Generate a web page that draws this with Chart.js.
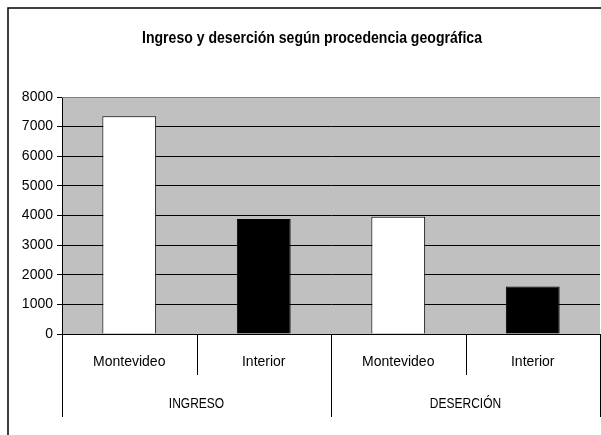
<!DOCTYPE html>
<html>
<head>
<meta charset="utf-8">
<script src="https://cdn.jsdelivr.net/npm/chart.js@4"></script>
<style>
  html, body { margin: 0; padding: 0; background: #fff; }
  #wrap { width: 601px; height: 435px; }
</style>
</head>
<body>
<div id="wrap"><canvas id="chart" width="601" height="435"></canvas></div>
<script>
const title = 'Ingreso y deserción según procedencia geográfica';
const categories = ['Montevideo', 'Interior', 'Montevideo', 'Interior'];
const groups = ['INGRESO', 'DESERCIÓN'];
const values = [7350, 3880, 3960, 1600];
const barColors = ['#ffffff', '#000000', '#ffffff', '#000000'];

const FONT = '"Liberation Sans", Arial, sans-serif';

// narrow-looking text: draw squeezed horizontally
function narrowText(ctx, text, cx, cy, squeeze) {
  ctx.save();
  ctx.translate(cx, cy);
  ctx.scale(squeeze, 1);
  ctx.fillText(text, 0, 0);
  ctx.restore();
}

// gray plot area + outer frame + two-level category axis
const decor = {
  id: 'decor',
  beforeDraw(chart) {
    const { ctx, chartArea: a } = chart;
    ctx.save();
    ctx.fillStyle = '#c0c0c0';
    ctx.fillRect(a.left, a.top, a.right - a.left, a.bottom - a.top);
    ctx.restore();
  },
  afterDraw(chart) {
    const { ctx, chartArea: a } = chart;
    const x = chart.scales.x;
    const half = (x.getPixelForValue(1) - x.getPixelForValue(0)) / 2;
    ctx.save();
    // plot border top
    ctx.strokeStyle = '#808080';
    ctx.lineWidth = 1;
    ctx.beginPath();
    ctx.moveTo(a.left, a.top + 0.5);
    ctx.lineTo(a.right, a.top + 0.5);
    ctx.stroke();
    // category separators
    ctx.strokeStyle = '#000';
    for (let i = 0; i <= categories.length; i++) {
      const px = Math.round(x.getPixelForValue(i) - half) + 0.5;
      ctx.beginPath();
      ctx.moveTo(px, a.bottom);
      ctx.lineTo(px, i % 2 === 0 ? 417 : 375);
      ctx.stroke();
    }
    // group labels
    ctx.fillStyle = '#000';
    ctx.font = '15px ' + FONT;
    ctx.textAlign = 'center';
    ctx.textBaseline = 'middle';
    groups.forEach((g, k) => {
      const cx = (x.getPixelForValue(2 * k) + x.getPixelForValue(2 * k + 1)) / 2;
      narrowText(ctx, g, cx, 404, 0.8);
    });
    // title
    ctx.font = 'bold 16px ' + FONT;
    const w = ctx.measureText(title).width;
    narrowText(ctx, title, 312, 39, 340 / w);
    // outer frame
    ctx.lineWidth = 1.5;
    ctx.beginPath();
    ctx.moveTo(8, 435);
    ctx.lineTo(8, 8);
    ctx.lineTo(601, 8);
    ctx.stroke();
    ctx.restore();
  }
};

new Chart(document.getElementById('chart'), {
  type: 'bar',
  data: {
    labels: categories,
    datasets: [{
      data: values,
      backgroundColor: barColors,
      borderColor: '#000',
      borderWidth: 1,
      barPercentage: 0.4,
      categoryPercentage: 1
    }]
  },
  options: {
    responsive: false,
    animation: false,
    layout: { padding: { top: 97, right: 1, left: 0, bottom: 0 } },
    plugins: {
      legend: { display: false },
      title: { display: false },
      tooltip: { enabled: false }
    },
    scales: {
      x: {
        grid: { display: false },
        border: { display: true, color: '#000', width: 1 },
        ticks: {
          color: '#000',
          font: { family: FONT, size: 14 },
          padding: 12,
          maxRotation: 0
        },
        afterFit(scale) { scale.height = 101; }
      },
      y: {
        min: 0,
        max: 8000,
        ticks: {
          stepSize: 1000,
          color: '#000',
          font: { family: FONT, size: 14 },
          padding: 4,
          callback: v => String(v)
        },
        grid: { color: '#000', lineWidth: 1, tickLength: 5 },
        border: { color: '#000', width: 1 },
        afterFit(scale) { scale.width = 62; }
      }
    }
  },
  plugins: [decor]
});
</script>
</body>
</html>
